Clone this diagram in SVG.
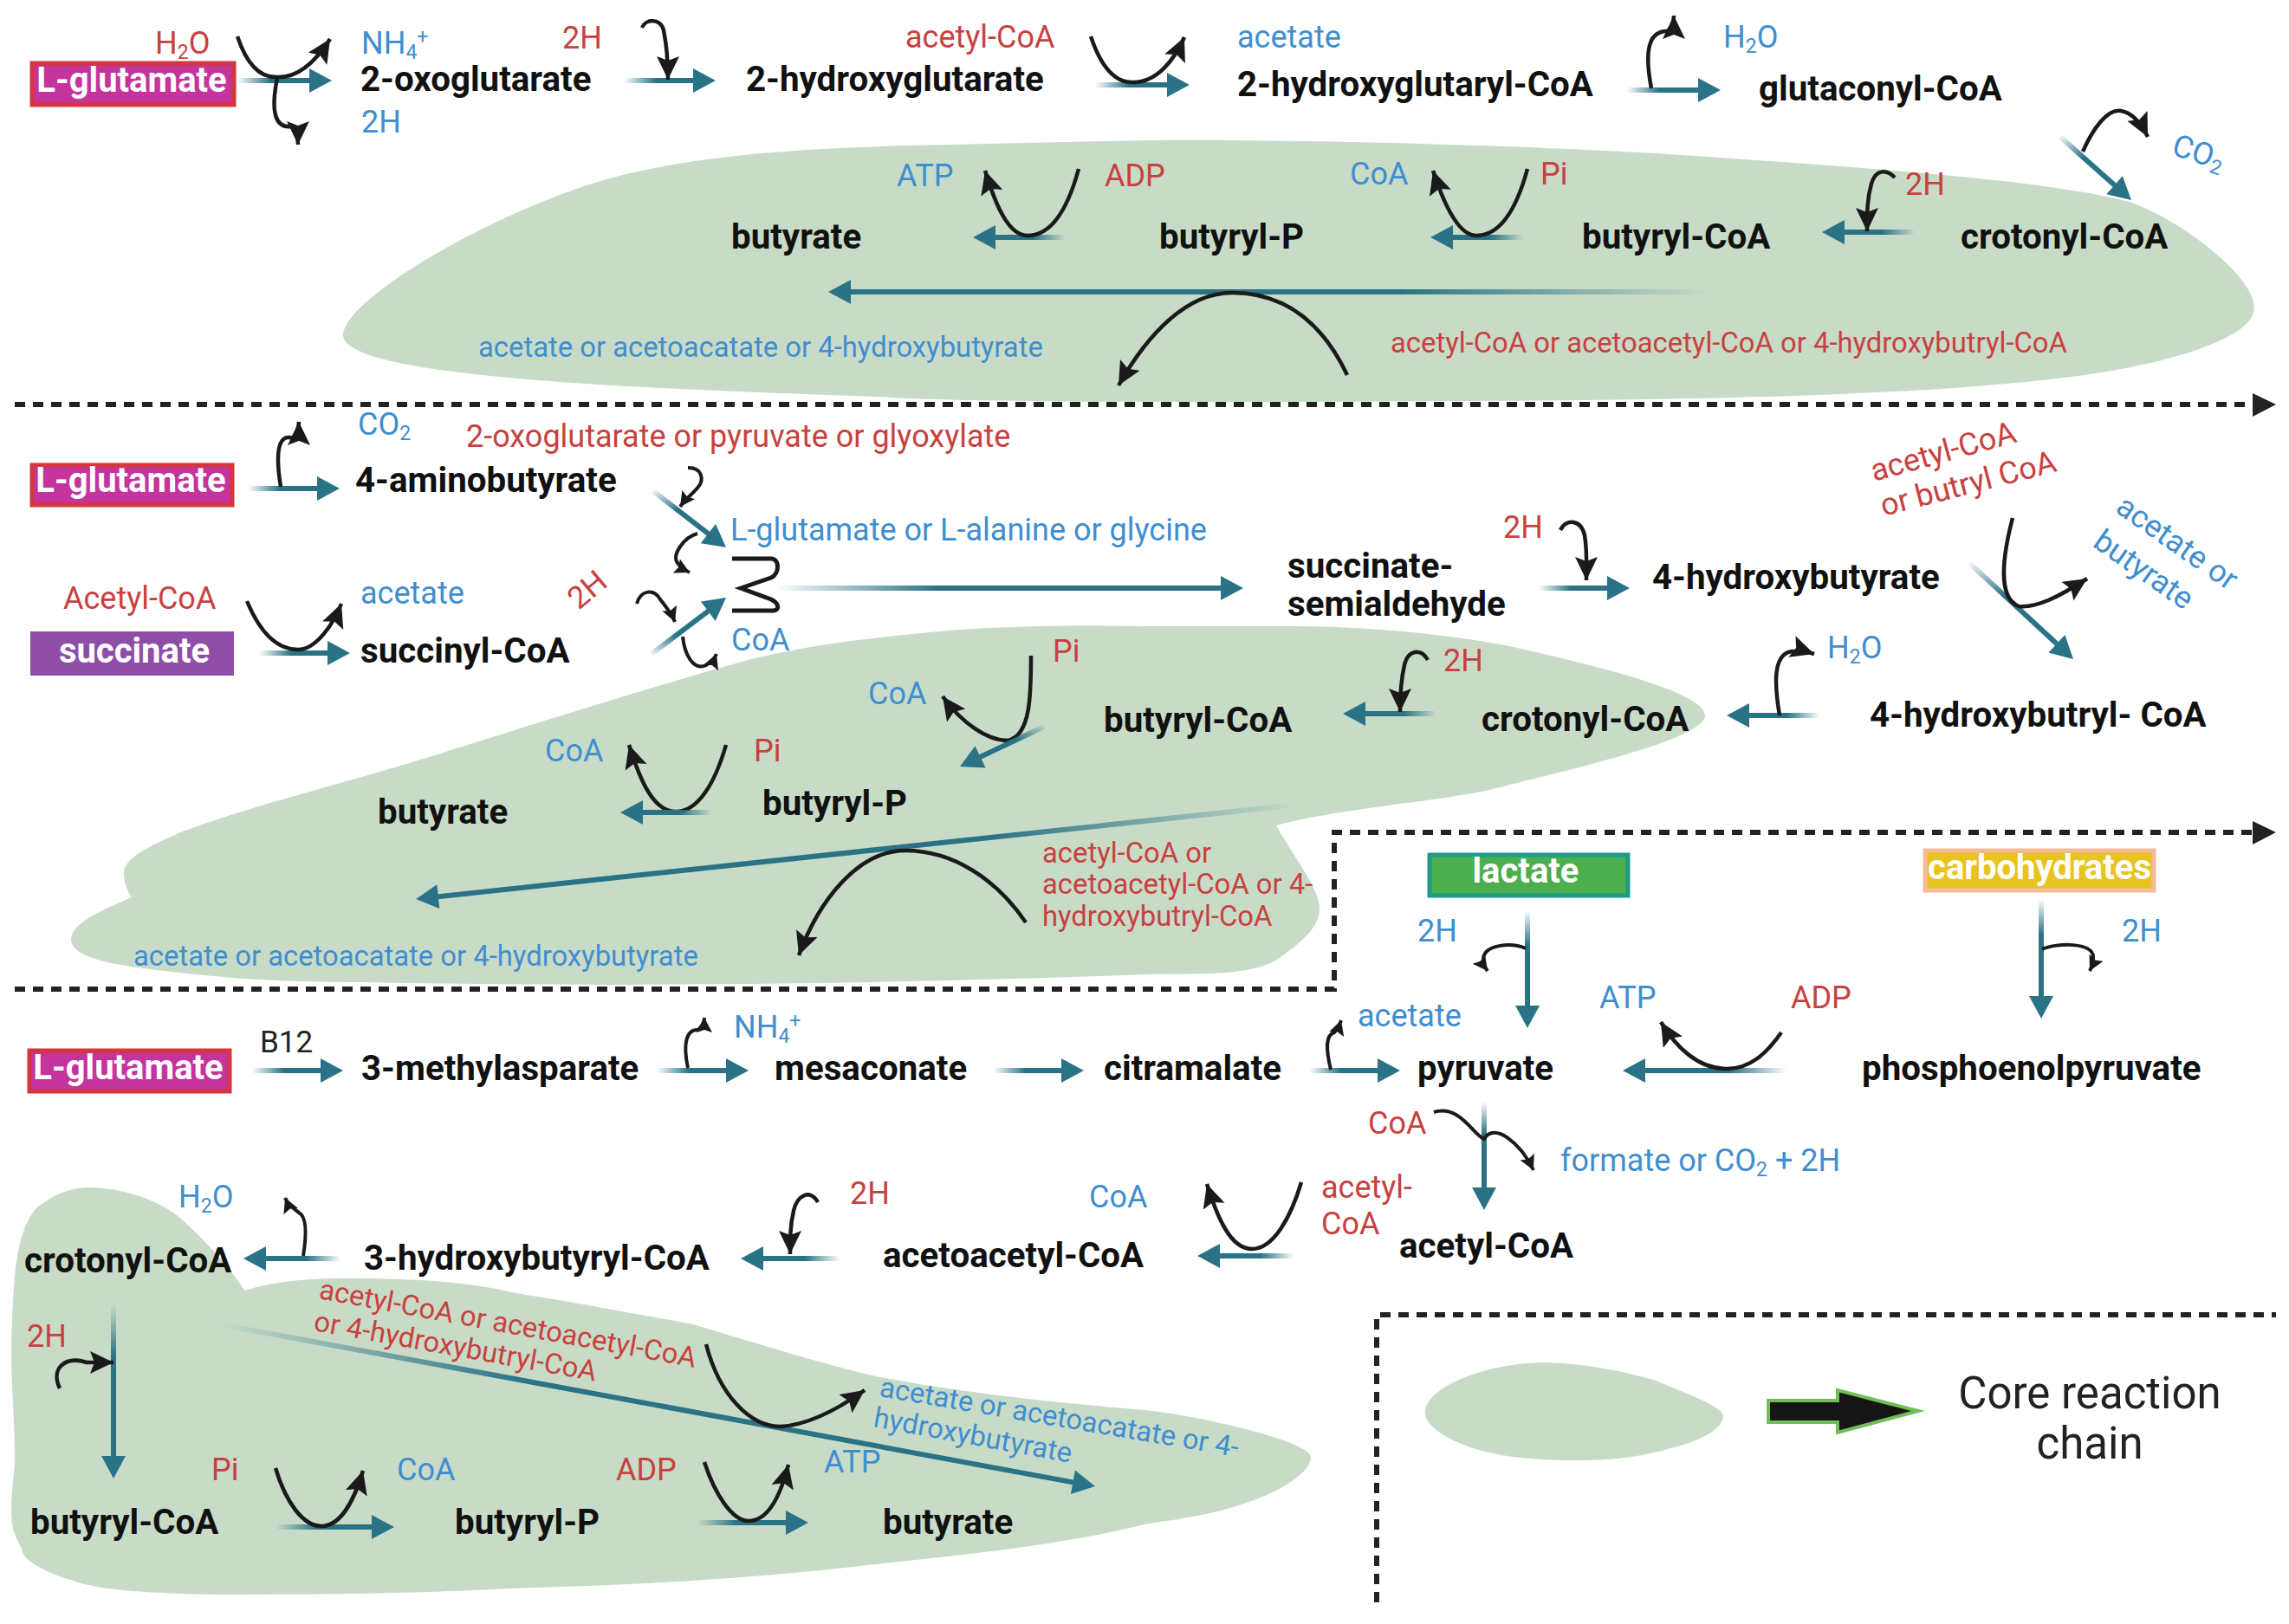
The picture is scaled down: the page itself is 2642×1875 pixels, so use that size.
<svg xmlns="http://www.w3.org/2000/svg" width="2642" height="1875" viewBox="0 0 2642 1875">
<style>
text{font-family:"Roboto","Liberation Sans",sans-serif}
.b{font-size:40.3px;font-weight:700;fill:#111}
.r{font-size:36px;fill:#c8413f}
.l{font-size:36px;fill:#3f8ed0}
.rs{font-size:32.8px;fill:#c8413f}
.ls{font-size:32.8px;fill:#3f8ed0}
.k{font-size:35px;fill:#222}
.w{font-size:40px;font-weight:700;fill:#fff;text-anchor:middle}
.blob{fill:#c8dbc7}
.dash{fill:none;stroke:#222;stroke-width:6;stroke-dasharray:12 9}
.c{fill:none;stroke:#1a1a1a;stroke-width:4.5;marker-end:url(#h)}
.cs{fill:none;stroke:#1a1a1a;stroke-width:4;marker-end:url(#hs)}
</style>
<defs>
<marker id="h" markerUnits="userSpaceOnUse" markerWidth="30" markerHeight="28" refX="27" refY="13" orient="auto"><path d="M0 0L27 13L0 26L5 13z" fill="#1a1a1a"/></marker>
<marker id="hs" markerUnits="userSpaceOnUse" markerWidth="20" markerHeight="20" refX="17" refY="9" orient="auto"><path d="M0 0L17 9L0 18L3 9z" fill="#1a1a1a"/></marker>
<linearGradient id="fR" x1="0" y1="0" x2="1" y2="0"><stop offset="0" stop-color="#2a7386" stop-opacity="0"/><stop offset=".35" stop-color="#2a7386"/></linearGradient>
<linearGradient id="fL" x1="1" y1="0" x2="0" y2="0"><stop offset="0" stop-color="#2a7386" stop-opacity="0"/><stop offset=".35" stop-color="#2a7386"/></linearGradient>
<linearGradient id="fD" x1="0" y1="0" x2="0" y2="1"><stop offset="0" stop-color="#2a7386" stop-opacity="0"/><stop offset=".3" stop-color="#2a7386"/></linearGradient>
<linearGradient id="fDR" x1="0" y1="0" x2="1" y2="1"><stop offset="0" stop-color="#2a7386" stop-opacity="0"/><stop offset=".35" stop-color="#2a7386"/></linearGradient>
<linearGradient id="fUR" x1="0" y1="1" x2="1" y2="0"><stop offset="0" stop-color="#2a7386" stop-opacity="0"/><stop offset=".35" stop-color="#2a7386"/></linearGradient>
<linearGradient id="fDL" x1="1" y1="0" x2="0" y2="1"><stop offset="0" stop-color="#2a7386" stop-opacity="0"/><stop offset=".35" stop-color="#2a7386"/></linearGradient>
</defs>
<rect width="2642" height="1875" fill="#fff"/>
<g id="core-regions">
<path class="blob" d="M396 387C398 345 560 250 690 210C790 180 920 170 1095 167L1321 162C1500 160 1800 170 1911 177C2100 190 2350 205 2458 233C2520 255 2602 320 2602 355C2602 395 2480 425 2374 437C2200 458 1900 463 1658 463C1400 465 1100 465 1011 458C800 450 396 440 396 387Z"/>
<path class="blob" d="M1968 826C1968 800 1850 770 1742 746C1650 728 1550 723 1489 723L1321 723C1250 722 1170 722 1095 728C1010 736 920 745 842 768C730 800 620 835 505 871C400 904 290 930 211 960C170 978 143 990 143 1009C143 1020 148 1030 152 1036C120 1050 82 1065 82 1085C82 1100 110 1110 152 1116C250 1130 330 1134 421 1134C600 1138 750 1137 842 1136C1000 1135 1200 1130 1321 1125C1380 1124 1410 1125 1431 1121C1455 1118 1470 1112 1481 1103C1505 1085 1523 1070 1523 1049C1523 1025 1490 985 1473 953C1560 930 1680 925 1742 906C1850 880 1968 850 1968 826Z"/>
<path class="blob" d="M101 1371C140 1371 185 1385 211 1409C245 1440 270 1470 282 1490C320 1478 360 1476 404 1476C480 1476 540 1480 590 1492C670 1505 740 1518 800 1529C870 1550 950 1575 1011 1589C1120 1610 1230 1620 1321 1628C1390 1635 1513 1665 1513 1682C1513 1700 1480 1720 1447 1732C1400 1750 1350 1755 1321 1760C1220 1785 1110 1795 1011 1806C850 1825 720 1830 590 1834C480 1840 360 1841 253 1841C170 1840 110 1835 84 1825C50 1815 25 1800 25 1788C15 1770 13 1760 13 1742C13 1720 17 1700 17 1682C17 1640 13 1600 13 1566C13 1530 15 1500 17 1474C20 1440 28 1410 42 1395C60 1380 80 1371 101 1371Z"/>
</g>
<g id="connectors">
<path class="dash" d="M17 467H2600"/><path d="M2600 454L2627 467L2600 481z" fill="#222"/>
<path class="dash" d="M17 1142H1540V961H2600"/><path d="M2600 948L2627 961L2600 975z" fill="#222"/>
<path class="dash" d="M1589 1850V1518H2627"/>

<path fill="url(#fR)" d="M274 90h83v-11l26 14l-26 14v-11h-83z"/>
<path fill="url(#fR)" d="M720 90h80v-11l26 14l-26 14v-11h-80z"/>
<path fill="url(#fR)" d="M1264 95h83v-11l26 14l-26 14v-11h-83z"/>
<path fill="url(#fR)" d="M1877 101h83v-11l26 14l-26 14v-11h-83z"/>
<path fill="url(#fDR)" d="M2376 160.2L2438.6 215.9L2431.3 224.2L2460 231L2449.9 203.2L2442.6 211.5L2380 155.8z"/>
<path fill="url(#fL)" d="M1230 271h-81v-11l-26 14l26 14v-11h81z"/>
<path fill="url(#fL)" d="M1759 271h-82v-11l-26 14l26 14v-11h82z"/>
<path fill="url(#fL)" d="M2210 265h-81v-11l-26 14l26 14v-11h81z"/>
<path fill="url(#fL)" d="M1970 334h-988v-11l-26 14l26 14v-11h988z"/>

<path class="c" d="M274 42C285 75 300 90 320 89C345 90 365 70 381 45"/>
<path class="c" d="M320 90C312 130 318 148 336 146C342 150 344 158 344 167"/>
<path class="c" d="M741 32C745 22 762 20 766 35C770 55 771 70 771 92"/>
<path class="c" d="M1259 42C1270 75 1285 96 1308 95C1335 95 1355 70 1367 43"/>
<path class="c" d="M1906 102C1900 70 1898 35 1925 36C1930 30 1932 25 1932 18"/>
<path class="c" d="M1245 195C1230 250 1210 272 1186 272C1165 272 1150 240 1137 197"/>
<path class="c" d="M1763 195C1748 250 1728 272 1704 272C1685 272 1668 240 1654 197"/>
<path class="c" d="M2187 205C2178 195 2165 195 2160 212C2155 230 2155 245 2155 267"/>
<path class="c" d="M2404 175C2415 150 2432 125 2448 128C2460 130 2470 140 2479 158"/>
<path class="c" d="M1555 433C1525 370 1480 338 1422 338C1370 338 1325 385 1291 445"/>

<path fill="url(#fR)" d="M286 561h80v-11l26 14l-26 14v-11h-80z"/>
<path class="c" d="M324 562C318 525 320 500 338 506C342 500 345 494 345 487"/>
<path fill="url(#fDR)" d="M752.2 569.4L815.6 618.5L808.8 627.2L838 632L826 605L819.2 613.7L755.8 564.6z"/>
<path fill="url(#fUR)" d="M753.8 757.4L819.1 708.1L825.7 716.9L838 690L808.9 694.5L815.5 703.3L750.2 752.6z"/>
<path class="cs" d="M794 540C812 540 812 555 806 562C800 570 792 575 785 585"/>
<path class="cs" d="M805 616C790 620 775 640 782 650C785 655 790 658 796 661"/>
<path class="cs" d="M735 697C740 680 755 680 762 692C768 700 775 708 779 718"/>
<path class="cs" d="M788 735C790 755 800 775 815 768C820 765 825 760 827 755"/>
<path d="M845 645H890C900 645 900 662 890 667L855 679L890 692C900 697 900 705 892 705H845" fill="none" stroke="#1a1a1a" stroke-width="5"/>
<path fill="url(#fR)" d="M893 676h516v-11l26 14l-26 14v-11h-516z"/>
<path fill="url(#fR)" d="M1776 676h79v-11l26 14l-26 14v-11h-79z"/>
<path class="c" d="M1801 612C1808 598 1825 600 1829 618C1832 635 1831 650 1831 670"/>
<path fill="url(#fDR)" d="M2271 652.2L2371.9 745.5L2364.4 753.6L2393 761L2383.4 733L2375.9 741.1L2275 647.8z"/>
<path class="c" d="M2323 598C2312 640 2305 690 2330 700C2350 702 2375 690 2409 668"/>
<path fill="url(#fL)" d="M2100 823h-81v-11l-26 14l26 14v-11h81z"/>
<path class="c" d="M2054 826C2048 790 2046 755 2068 752C2075 752 2085 752 2094 755"/>
<path fill="url(#fL)" d="M1658 821h-82v-11l-26 14l26 14v-11h82z"/>
<path class="c" d="M1648 762C1640 748 1625 750 1621 768C1617 785 1616 800 1616 822"/>
<path fill="url(#fR)" d="M299 751h79v-11l26 14l-26 14v-11h-79z"/>
<path class="c" d="M285 694C300 730 320 750 344 750C365 750 385 720 394 697"/>
<path class="c" d="M1190 757C1190 800 1190 850 1163 855C1140 855 1110 835 1088 804"/>
<path fill="url(#fDL)" d="M1203.7 836.3L1130.2 871.2L1125.5 861.3L1108 885L1137.5 886.5L1132.8 876.6L1206.3 841.7z"/>
<path class="c" d="M838 860C825 905 805 938 779 937C755 936 740 905 726 860"/>
<path fill="url(#fL)" d="M821 935h-79v-11l-26 14l26 14v-11h79z"/>
<path fill="url(#fL)" d="M1497.7 926L505.5 1032.2L504.3 1021.3L480 1038L507.3 1049.1L506.1 1038.2L1498.3 932z"/>
<path class="c" d="M1184 1065C1150 1015 1100 982 1045 982C990 982 945 1040 922 1103"/>

<path fill="url(#fD)" d="M1760 1051v110h-11l14 26l14-26h-11v-110z"/>
<path fill="url(#fD)" d="M2353 1038v112h-11l14 26l14-26h-11v-112z"/>
<path class="cs" d="M1761 1095C1745 1088 1712 1090 1712 1108C1712 1112 1714 1117 1717 1121"/>
<path class="cs" d="M2357 1096C2375 1088 2416 1088 2416 1105C2416 1112 2414 1117 2412 1121"/>

<path fill="url(#fR)" d="M291 1233h79v-11l26 14l-26 14v-11h-79z"/>
<path fill="url(#fR)" d="M758 1233h80v-11l26 14l-26 14v-11h-80z"/>
<path class="cs" d="M794 1233C788 1205 792 1188 806 1189C810 1185 813 1180 813 1175"/>
<path fill="url(#fR)" d="M1147 1233h78v-11l26 14l-26 14v-11h-78z"/>
<path fill="url(#fR)" d="M1511 1233h79v-11l26 14l-26 14v-11h-79z"/>
<path class="cs" d="M1536 1235C1530 1210 1530 1195 1540 1192C1544 1188 1546 1184 1548 1178"/>
<path fill="url(#fL)" d="M2062 1233h-163v-11l-26 14l26 14v-11h163z"/>
<path class="c" d="M2056 1192C2040 1215 2020 1235 1991 1234C1960 1233 1935 1210 1917 1180"/>
<path fill="url(#fD)" d="M1710 1272v99h-11l14 26l14-26h-11v-99z"/>
<path class="cs" d="M1655 1284C1685 1275 1700 1310 1713 1315C1725 1295 1755 1320 1770 1351"/>
<path class="c" d="M1502 1365C1490 1405 1470 1442 1445 1442C1420 1442 1405 1405 1393 1367"/>
<path fill="url(#fL)" d="M1494 1447h-86v-11l-26 14l26 14v-11h86z"/>
<path fill="url(#fL)" d="M969 1450h-88v-11l-26 14l26 14v-11h88z"/>
<path class="c" d="M944 1388C935 1372 920 1380 916 1398C912 1415 912 1430 912 1448"/>
<path fill="url(#fL)" d="M393 1450h-86v-11l-26 14l26 14v-11h86z"/>
<path class="cs" d="M350 1450C354 1425 354 1405 345 1400C338 1395 332 1390 329 1383"/>
<path fill="url(#fD)" d="M128 1506v175h-11l14 26l14-26h-11v-175z"/>
<path class="c" d="M69 1603C58 1580 75 1565 100 1573L131 1573"/>
<path fill="url(#fR)" d="M318 1760h111v-11l26 14l-26 14v-11h-111z"/>
<path class="c" d="M318 1695C330 1735 350 1762 371 1762C392 1762 408 1735 419 1698"/>
<path fill="url(#fR)" d="M805 1755h102v-11l26 14l-26 14v-11h-102z"/>
<path class="c" d="M813 1688C825 1725 845 1756 864 1756C885 1756 900 1730 910 1691"/>
<path fill="url(#fR)" d="M252.5 1532L1237.9 1714.2L1235.9 1725L1264 1716L1240.9 1697.5L1238.9 1708.4L253.5 1526z"/>
<path class="c" d="M815 1552C830 1610 865 1647 901 1647C935 1645 970 1625 998 1605"/>
</g>

<g id="pathway1">
<g id="n-glutamate1"><rect x="37" y="73" width="233" height="48" fill="#c5349c" stroke="#d5353c" stroke-width="5"/><text class="w" x="152" y="106">L-glutamate</text></g>
<g id="n-h2o1"><text class="r" x="179" y="62">H<tspan font-size="23" dy="6">2</tspan><tspan dy="-6">O</tspan></text></g>
<g id="n-nh41"><text class="l" x="417" y="62">NH<tspan font-size="23" dy="6">4</tspan><tspan font-size="23" dy="-18">+</tspan></text></g>
<g id="n-oxoglutarate"><text class="b" x="416" y="105">2-oxoglutarate</text></g>
<g id="n-2h1"><text class="l" x="417" y="153">2H</text></g>
<g id="n-2h2"><text class="r" x="649" y="56">2H</text></g>
<g id="n-hydroxyglutarate"><text class="b" x="861" y="105">2-hydroxyglutarate</text></g>
<g id="n-acetylcoa1"><text class="r" x="1045" y="55">acetyl-CoA</text></g>
<g id="n-acetate1"><text class="l" x="1428" y="55">acetate</text></g>
<g id="n-hydroxyglutarylcoa"><text class="b" x="1428" y="111">2-hydroxyglutaryl-CoA</text></g>
<g id="n-h2o2"><text class="l" x="1989" y="55">H<tspan font-size="23" dy="6">2</tspan><tspan dy="-6">O</tspan></text></g>
<g id="n-glutaconylcoa"><text class="b" x="2030" y="116">glutaconyl-CoA</text></g>
<g id="n-co21"><text class="l" transform="translate(2505 178) rotate(18)">CO<tspan font-size="23" dy="6">2</tspan></text></g>
<g id="n-butyrate1"><text class="b" x="844" y="287">butyrate</text></g>
<g id="n-atp1"><text class="l" x="1035" y="215">ATP</text></g>
<g id="n-adp1"><text class="r" x="1275" y="215">ADP</text></g>
<g id="n-butyrylp1"><text class="b" x="1338" y="287">butyryl-P</text></g>
<g id="n-coa1"><text class="l" x="1558" y="213">CoA</text></g>
<g id="n-pi1"><text class="r" x="1778" y="213">Pi</text></g>
<g id="n-butyrylcoa1"><text class="b" x="1826" y="287">butyryl-CoA</text></g>
<g id="n-2h3"><text class="r" x="2199" y="225">2H</text></g>
<g id="n-crotonylcoa1"><text class="b" x="2263" y="287">crotonyl-CoA</text></g>
<g id="n-products1"><text class="ls" x="552" y="412">acetate or acetoacatate or 4-hydroxybutyrate</text></g>
<g id="n-donors1"><text class="rs" x="1605" y="407">acetyl-CoA or acetoacetyl-CoA or 4-hydroxybutryl-CoA</text></g>
</g>

<g id="pathway2">
<g id="n-glutamate2"><rect x="37" y="537" width="231" height="46" fill="#c5349c" stroke="#d5353c" stroke-width="5"/><text class="w" x="151" y="568">L-glutamate</text></g>
<g id="n-co22"><text class="l" x="413" y="502">CO<tspan font-size="23" dy="6">2</tspan></text></g>
<g id="n-aminobutyrate"><text class="b" x="410" y="568">4-aminobutyrate</text></g>
<g id="n-acceptors"><text class="r" x="538" y="516">2-oxoglutarate or pyruvate or glyoxylate</text></g>
<g id="n-aminos"><text class="l" x="843" y="624">L-glutamate or L-alanine or glycine</text></g>
<g id="n-ssa"><text class="b" x="1486" y="667">succinate-</text><text class="b" x="1486" y="711">semialdehyde</text></g>
<g id="n-2h4"><text class="r" x="1735" y="621">2H</text></g>
<g id="n-4hb"><text class="b" x="1907" y="680">4-hydroxybutyrate</text></g>
<g id="n-donors2"><text class="r" transform="translate(2163 556) rotate(-15.5)">acetyl-CoA</text><text class="r" transform="translate(2174 596) rotate(-14.5)">or butryl CoA</text></g>
<g id="n-products2"><text class="l" transform="translate(2440 590) rotate(35)">acetate or</text><text class="l" transform="translate(2414 630) rotate(35)">butyrate</text></g>
<g id="n-4hbcoa"><text class="b" x="2158" y="839">4-hydroxybutryl- CoA</text></g>
<g id="n-h2o3"><text class="l" x="2109" y="760">H<tspan font-size="23" dy="6">2</tspan><tspan dy="-6">O</tspan></text></g>
<g id="n-crotonylcoa2"><text class="b" x="1710" y="844">crotonyl-CoA</text></g>
<g id="n-2h5"><text class="r" x="1666" y="775">2H</text></g>
<g id="n-butyrylcoa2"><text class="b" x="1274" y="845">butyryl-CoA</text></g>
<g id="n-acetate2"><text class="l" x="416" y="697">acetate</text></g>
<g id="n-acetylcoa2"><text class="r" x="73" y="703">Acetyl-CoA</text></g>
<g id="n-succinate"><rect x="35" y="729" width="235" height="51" fill="#8e4ea8"/><text class="w" x="155" y="765">succinate</text></g>
<g id="n-succinylcoa"><text class="b" x="416" y="765">succinyl-CoA</text></g>
<g id="n-2h6"><text class="r" transform="translate(668 705) rotate(-40)">2H</text></g>
<g id="n-coa2"><text class="l" x="844" y="751">CoA</text></g>
<g id="n-pi2"><text class="r" x="1215" y="764">Pi</text></g>
<g id="n-coa3"><text class="l" x="1002" y="813">CoA</text></g>
<g id="n-butyrate2"><text class="b" x="436" y="951">butyrate</text></g>
<g id="n-coa4"><text class="l" x="629" y="879">CoA</text></g>
<g id="n-pi3"><text class="r" x="870" y="879">Pi</text></g>
<g id="n-butyrylp2"><text class="b" x="880" y="941">butyryl-P</text></g>
<g id="n-donors3"><text class="rs" x="1203" y="996">acetyl-CoA or</text><text class="rs" x="1203" y="1032">acetoacetyl-CoA or 4-</text><text class="rs" x="1203" y="1069">hydroxybutryl-CoA</text></g>
<g id="n-products3"><text class="ls" x="154" y="1115">acetate or acetoacatate or 4-hydroxybutyrate</text></g>
</g>

<g id="pathway3">
<g id="n-lactate"><rect x="1650" y="987" width="229" height="47" fill="#4cae4c" stroke="#1d9a8c" stroke-width="5"/><text class="w" x="1761" y="1019">lactate</text></g>
<g id="n-carbohydrates"><rect x="2222" y="982" width="264" height="46" fill="#e9c320" stroke="#f4bb9a" stroke-width="5"/><text class="w" x="2354" y="1015">carbohydrates</text></g>
<g id="n-2h7"><text class="l" x="1636" y="1087">2H</text></g>
<g id="n-2h8"><text class="l" x="2449" y="1087">2H</text></g>
<g id="n-glutamate3"><rect x="34" y="1213" width="231" height="47" fill="#c5349c" stroke="#d5353c" stroke-width="5"/><text class="w" x="148" y="1246">L-glutamate</text></g>
<g id="n-b12"><text class="k" x="300" y="1215">B12</text></g>
<g id="n-methylasparate"><text class="b" x="417" y="1247">3-methylasparate</text></g>
<g id="n-nh42"><text class="l" x="847" y="1198">NH<tspan font-size="23" dy="6">4</tspan><tspan font-size="23" dy="-18">+</tspan></text></g>
<g id="n-mesaconate"><text class="b" x="894" y="1247">mesaconate</text></g>
<g id="n-citramalate"><text class="b" x="1274" y="1247">citramalate</text></g>
<g id="n-acetate3"><text class="l" x="1567" y="1185">acetate</text></g>
<g id="n-pyruvate"><text class="b" x="1636" y="1247">pyruvate</text></g>
<g id="n-atp2"><text class="l" x="1846" y="1164">ATP</text></g>
<g id="n-adp2"><text class="r" x="2067" y="1164">ADP</text></g>
<g id="n-pep"><text class="b" x="2149" y="1247">phosphoenolpyruvate</text></g>
<g id="n-coa5"><text class="r" x="1579" y="1309">CoA</text></g>
<g id="n-formate"><text class="l" x="1801" y="1352">formate or CO<tspan font-size="23" dy="6">2</tspan><tspan dy="-6"> + 2H</tspan></text></g>
<g id="n-acetylcoa3"><text class="r" x="1525" y="1383">acetyl-</text><text class="r" x="1525" y="1425">CoA</text></g>
<g id="n-acetylcoa4"><text class="b" x="1615" y="1452">acetyl-CoA</text></g>
<g id="n-coa6"><text class="l" x="1257" y="1394">CoA</text></g>
<g id="n-acetoacetylcoa"><text class="b" x="1019" y="1463">acetoacetyl-CoA</text></g>
<g id="n-2h9"><text class="r" x="981" y="1390">2H</text></g>
<g id="n-3hbcoa"><text class="b" x="420" y="1466">3-hydroxybutyryl-CoA</text></g>
<g id="n-h2o4"><text class="l" x="206" y="1394">H<tspan font-size="23" dy="6">2</tspan><tspan dy="-6">O</tspan></text></g>
<g id="n-crotonylcoa3"><text class="b" x="28" y="1469">crotonyl-CoA</text></g>
<g id="n-2h10"><text class="r" x="31" y="1555">2H</text></g>
<g id="n-butyrylcoa3"><text class="b" x="35" y="1771">butyryl-CoA</text></g>
<g id="n-pi4"><text class="r" x="244" y="1709">Pi</text></g>
<g id="n-coa7"><text class="l" x="458" y="1709">CoA</text></g>
<g id="n-butyrylp3"><text class="b" x="525" y="1771">butyryl-P</text></g>
<g id="n-adp3"><text class="r" x="711" y="1709">ADP</text></g>
<g id="n-atp3"><text class="l" x="951" y="1700">ATP</text></g>
<g id="n-butyrate3"><text class="b" x="1019" y="1771">butyrate</text></g>
<g id="n-donors4"><text class="rs" transform="translate(367 1499) rotate(10.4)">acetyl-CoA or acetoacetyl-CoA</text><text class="rs" transform="translate(361 1536) rotate(10.2)">or 4-hydroxybutryl-CoA</text></g>
<g id="n-products4"><text class="ls" transform="translate(1014 1612) rotate(9.6)">acetate or acetoacatate or 4-</text><text class="ls" transform="translate(1007 1647) rotate(10.4)">hydroxybutyrate</text></g>
</g>

<g id="legend">
<path class="blob" d="M1645 1631C1645 1600 1720 1573 1784 1573C1840 1575 1880 1585 1911 1594C1950 1610 1989 1625 1989 1635C1989 1650 1960 1665 1928 1672C1890 1684 1850 1686 1818 1686C1770 1686 1730 1682 1700 1672C1665 1660 1645 1645 1645 1631Z"/>
<path d="M2041 1617H2121V1605L2214 1629L2121 1654V1642H2041Z" fill="#151515" stroke="#6fbe57" stroke-width="4"/>
<text x="2412" y="1626" text-anchor="middle" style="font-size:51px;fill:#222">Core reaction</text>
<text x="2412" y="1684" text-anchor="middle" style="font-size:51px;fill:#222">chain</text>
</g>
</svg>
